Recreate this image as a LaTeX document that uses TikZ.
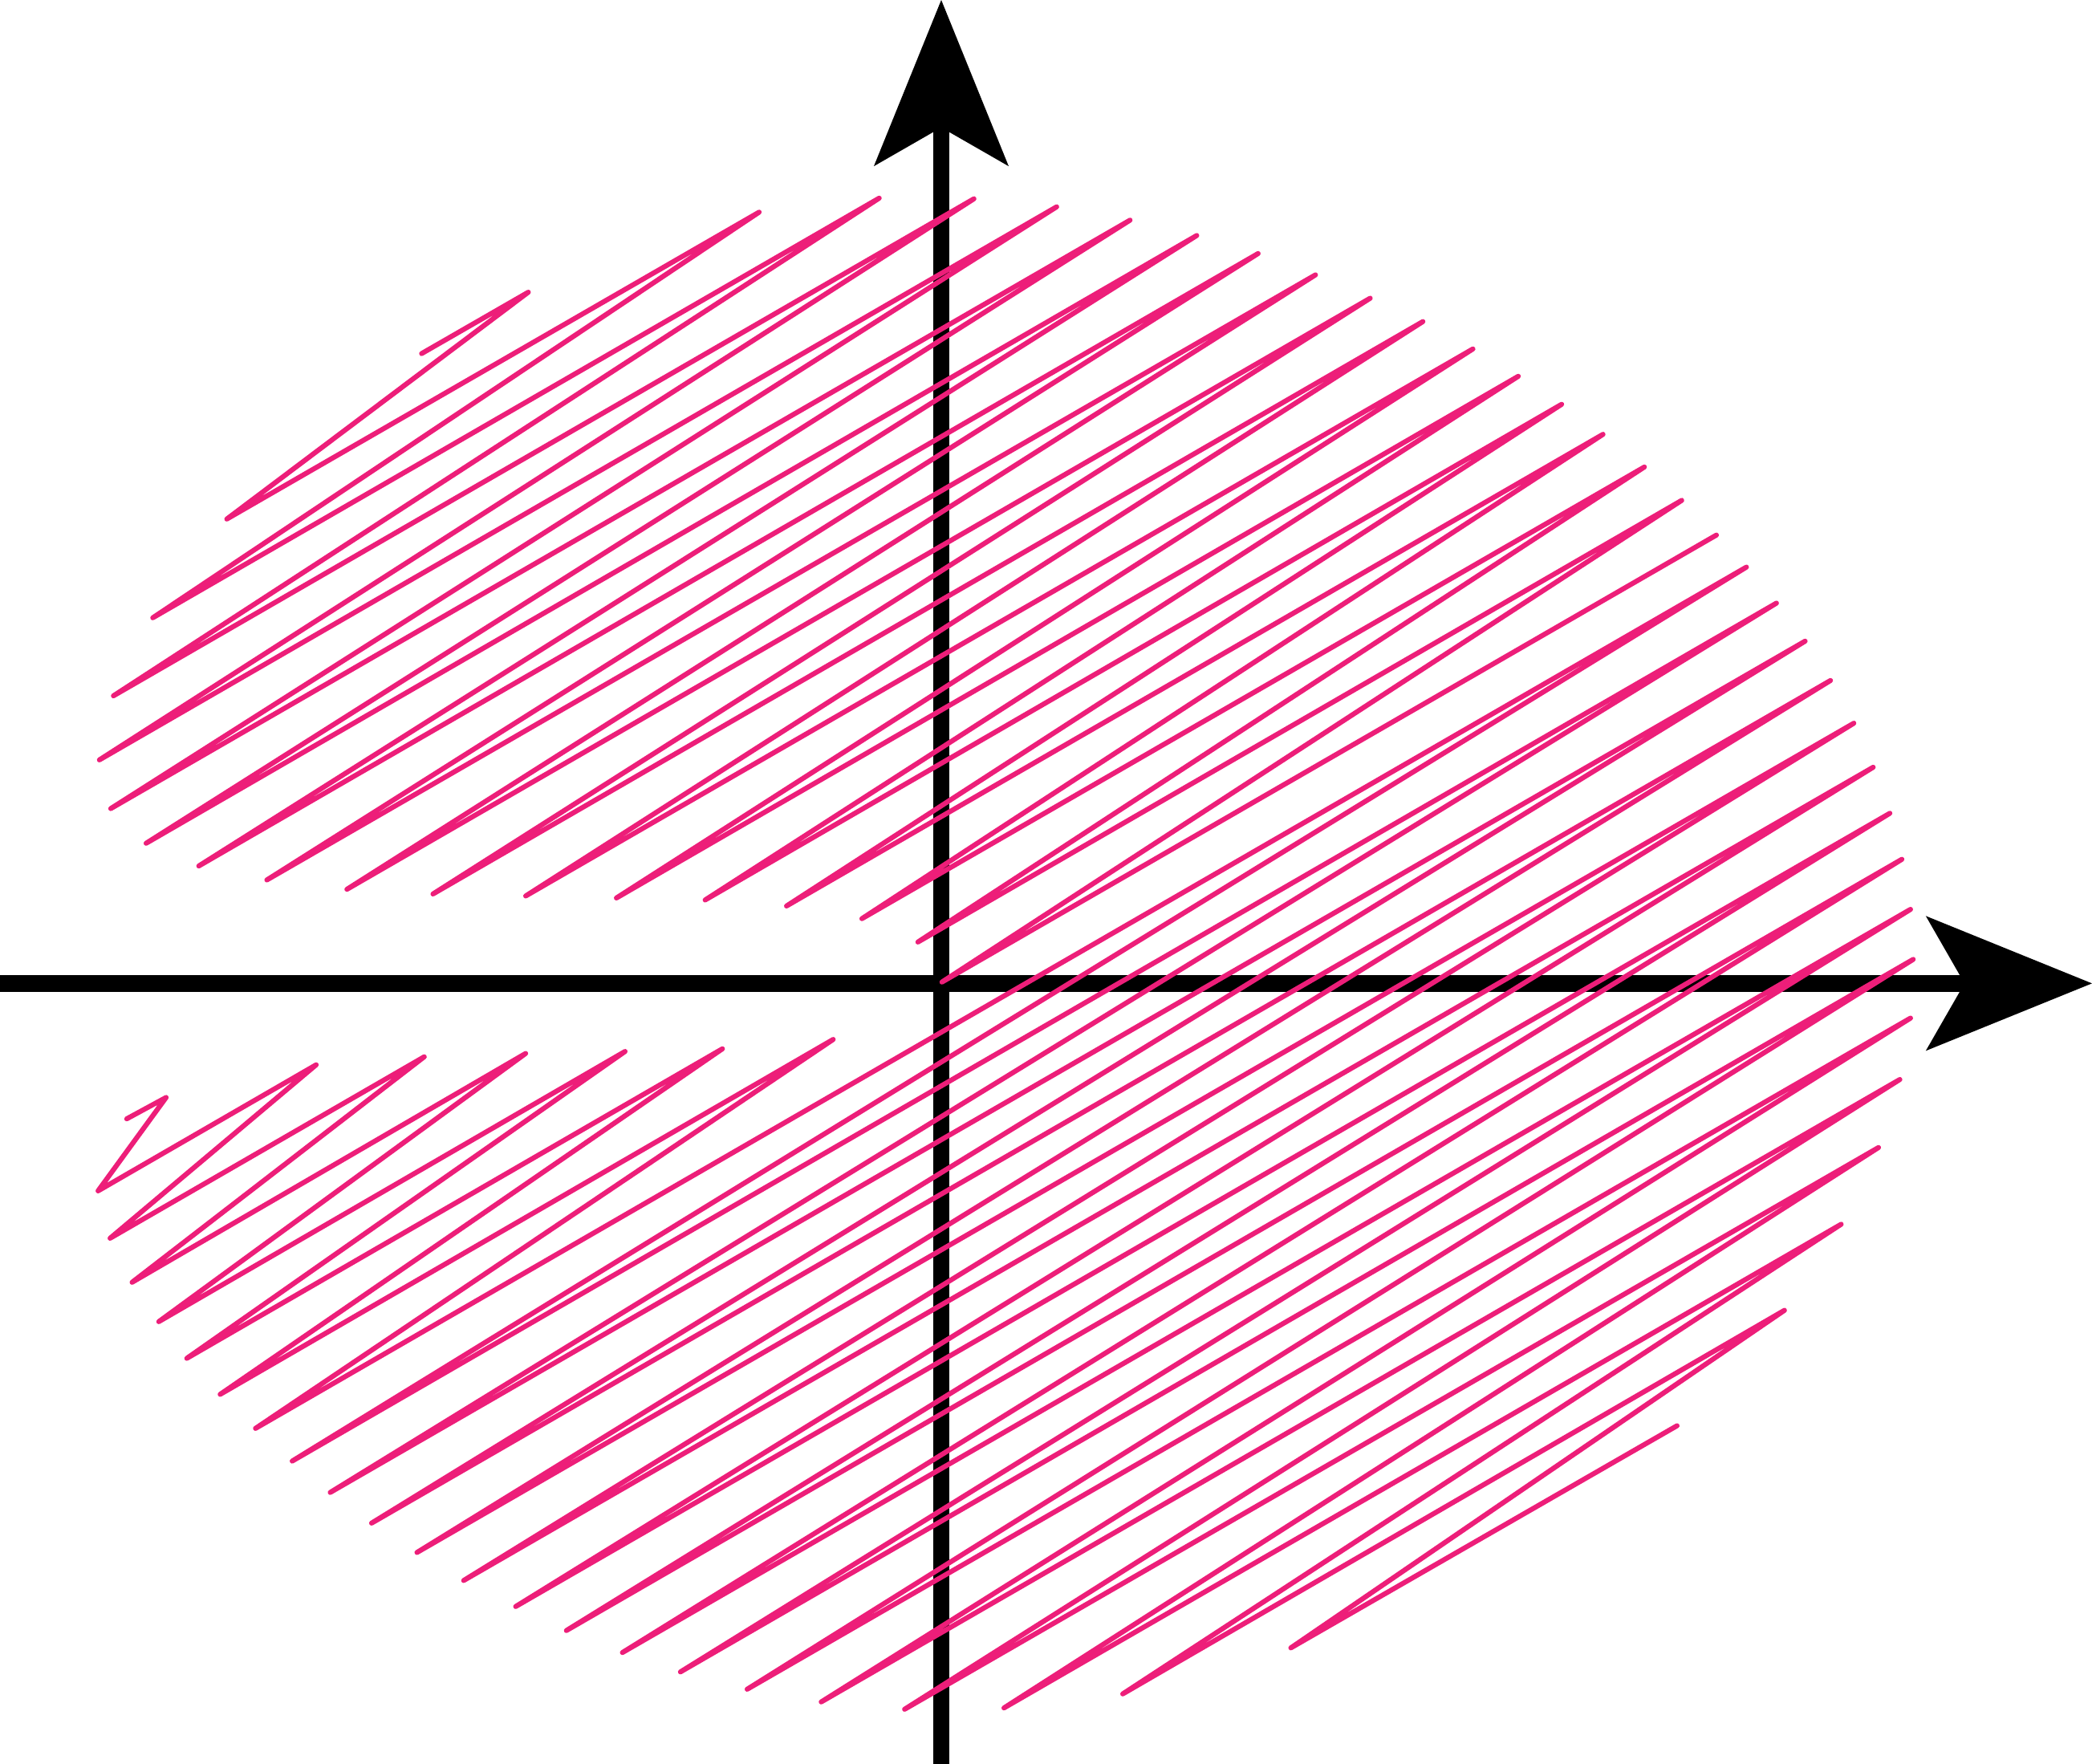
\documentclass[tikz,border=0pt]{standalone}
\usepackage{tikz}
\usetikzlibrary{arrows.meta}
\definecolor{HATCHpink}{HTML}{ED1E79}
\tikzset{hatchline/.style={draw=HATCHpink,line width=1.06pt,line cap=round,line join=round},
 axisline/.style={draw=black,line width=3.56pt,
 -{Stealth[length=1.245cm,width=1.01cm,inset=0.29cm,line width=0pt]}}}

\begin{document}
\begin{tikzpicture}[x=0.01cm,y=-0.01cm]
\useasboundingbox (0,0) rectangle (1568,1322);
\draw[axisline] (0,737) -- (1568,737);
\draw[axisline] (705.5,1322) -- (705.5,0);
\draw[hatchline] (316,265) -- (396,219) -- (170,389) -- (569,159) -- (114.5,463) -- (659,148.5)
 -- (85,521.5) -- (730,149) -- (74.5,569.5) -- (792,155) -- (83,606) -- (847,165)
 -- (109.5,632) -- (897,176.5) -- (149,649) -- (943,190) -- (200,659.5) -- (986,206)
 -- (260,666.5) -- (1027,223.5) -- (324.5,670) -- (1066.5,241) -- (394,671.5) -- (1104,261.5)
 -- (462,673) -- (1138,282) -- (528.5,674.5) -- (1170.5,303) -- (589.5,679) -- (1201.5,325.5)
 -- (646,688.5) -- (1232.5,350) -- (688,706) -- (1260.5,375) -- (706,736) -- (1286.5,401);
\draw[hatchline] (95,838.5) -- (124.5,822.5) -- (73.5,892.5) -- (237,798) -- (82.5,928) -- (318,792)
 -- (99,961) -- (394,789.5) -- (119,990.5) -- (468.5,788) -- (140,1018) -- (541.5,786)
 -- (165,1045) -- (624.5,779) -- (191.5,1070.5) -- (1309,425) -- (219,1095) -- (1331.5,452)
 -- (247.5,1118.5) -- (1353,480.5) -- (278.5,1141.5) -- (1372,510) -- (312.5,1163.5) -- (1389.5,542)
 -- (347.5,1184.5) -- (1404,575) -- (386.5,1204) -- (1416.5,609.5) -- (424.5,1222) -- (1425.5,644)
 -- (466.5,1238.5) -- (1432,681.5) -- (510,1253) -- (1434,719) -- (560,1266) -- (1432,763)
 -- (615.5,1275.5) -- (1424,809) -- (678,1281) -- (1408,860) -- (752.5,1280) -- (1380,917.5)
 -- (841.5,1269.5) -- (1337.5,982) -- (967.5,1235) -- (1257,1068.5);
\end{tikzpicture}
\end{document}
